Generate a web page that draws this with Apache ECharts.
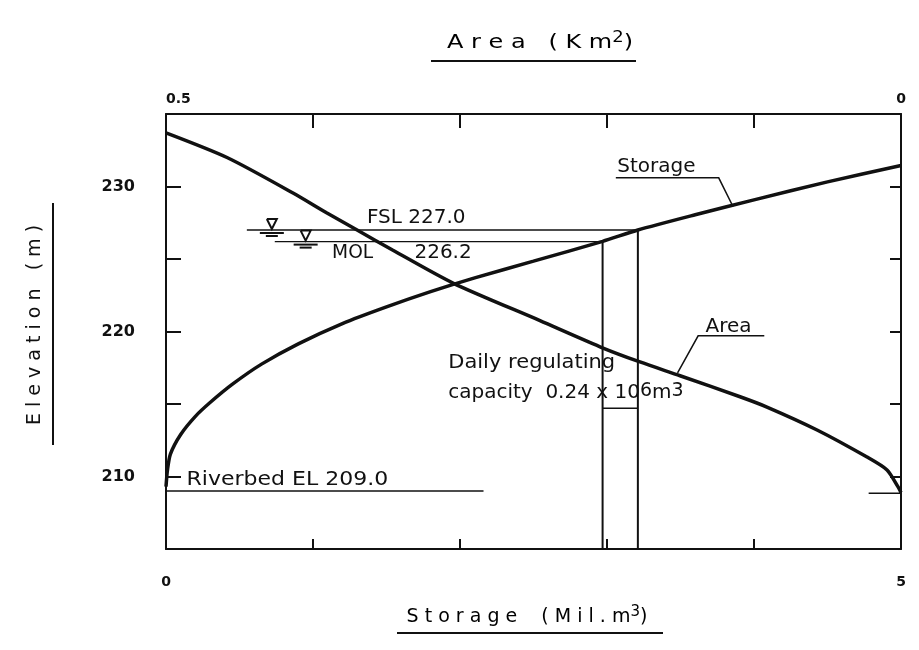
<!DOCTYPE html>
<html><head><meta charset="utf-8">
<script src="https://cdn.jsdelivr.net/npm/echarts/dist/echarts.min.js"></script>
<style>html,body{margin:0;padding:0;background:#fff}#c{width:919px;height:650px}</style>
</head><body><div id="c"></div>
<script>
// ---- data ----
const storageMil  = [0, 0.01, 0.03, 0.1, 0.2, 0.3, 0.45, 0.65, 0.9, 1.2, 1.5, 1.8, 2.1, 2.5, 2.97, 3.21, 3.6, 4.0, 4.5, 5.0];
const storageElev = [209.3, 210.45, 211.55, 212.9, 214.15, 215.1, 216.35, 217.75, 219.15, 220.55, 221.7, 222.75, 223.7, 224.85, 226.22, 227.0, 228.05, 229.08, 230.32, 231.45];
const areaKm2  = [0.5, 0.4585, 0.4136, 0.3905, 0.37, 0.3456, 0.3048, 0.2456, 0.2027, 0.1776, 0.1503, 0.1095, 0.0912, 0.0571, 0.0231, 0.0095, 0.002, 0];
const areaElev = [233.7, 232.0, 229.55, 228.17, 227.0, 225.6, 223.34, 220.75, 218.86, 217.9, 216.95, 215.5, 214.79, 213.21, 211.34, 210.45, 209.28, 208.9];
const FSL = 227.0, MOL = 226.2, RIVERBED = 209.0;
const storageAtFSL = 3.21, storageAtMOL = 2.97;
const fslLineStart = 0.55, molLineStart = 0.74, riverbedLineEnd = 2.16, riverbedStubStart = 4.78;
const dimLineElev = 214.7;
const elevTickLabels = [210, 220, 230];
const storageTickLabels = [0, 5];
const areaTickLabels = [0.5, 0];

const FONT = 'DejaVu Sans';
const INK = '#111';
const chart = echarts.init(document.getElementById('c'), null, {renderer: 'canvas'});

function lineSeries(pts, w, xi) {
  return {type: 'line', xAxisIndex: xi || 0, yAxisIndex: 0, data: pts, symbol: 'none', silent: true,
    lineStyle: {color: INK, width: w}, animation: false, z: 3};
}

const storagePts = storageMil.map((s, i) => [s, storageElev[i]]);
const areaPts = areaKm2.map((a, i) => [a, areaElev[i]]);

const option = {
  animation: false,
  backgroundColor: '#fff',
  grid: {left: 166, right: 18, top: 114, bottom: 101, show: false},
  xAxis: [
    {type: 'value', position: 'bottom', min: 0, max: 5, interval: 1,
     axisLine: {show: true, onZero: false, lineStyle: {color: INK, width: 2}},
     axisTick: {show: true, inside: true, length: 10, lineStyle: {color: INK, width: 2}},
     axisLabel: {margin: 26, fontFamily: FONT, fontSize: 14, fontWeight: 'bold', color: INK,
       formatter: v => storageTickLabels.indexOf(v) >= 0 ? String(v) : ''},
     splitLine: {show: false}},
    {type: 'value', position: 'top', min: 0, max: 0.5, interval: 0.1, inverse: true,
     axisLine: {show: true, onZero: false, lineStyle: {color: INK, width: 2}},
     axisTick: {show: true, inside: true, length: 14, lineStyle: {color: INK, width: 2}},
     axisLabel: {margin: 8, fontFamily: FONT, fontSize: 14, fontWeight: 'bold', color: INK, alignMaxLabel: 'left',
       formatter: v => areaTickLabels.some(t => Math.abs(t - v) < 1e-9) ? String(+v.toFixed(1)) : ''},
     splitLine: {show: false}}
  ],
  yAxis: [
    {type: 'value', position: 'left', min: 205, max: 235, interval: 5,
     axisLine: {show: true, onZero: false, lineStyle: {color: INK, width: 2}},
     axisTick: {show: true, inside: true, length: 15, lineStyle: {color: INK, width: 2}},
     axisLabel: {margin: 31, fontFamily: FONT, fontSize: 16, fontWeight: 'bold', color: INK,
       formatter: v => elevTickLabels.indexOf(v) >= 0 ? String(v) : ''},
     splitLine: {show: false}},
    {type: 'value', position: 'right', min: 205, max: 235, interval: 5,
     axisLine: {show: true, onZero: false, lineStyle: {color: INK, width: 2}},
     axisTick: {show: true, inside: true, length: 11, lineStyle: {color: INK, width: 2}},
     axisLabel: {show: false}, splitLine: {show: false}}
  ],
  series: [
    Object.assign(lineSeries(storagePts, 3.5, 0), {smooth: 0.25, z: 5}),
    Object.assign(lineSeries(areaPts, 3.5, 1), {smooth: 0.25, z: 5}),
    lineSeries([[fslLineStart, FSL], [storageAtFSL, FSL]], 1.3),
    lineSeries([[molLineStart, MOL], [storageAtMOL, MOL]], 1.3),
    lineSeries([[storageAtFSL, 205], [storageAtFSL, FSL]], 2),
    lineSeries([[storageAtMOL, 205], [storageAtMOL, MOL]], 2),
    lineSeries([[storageAtMOL, dimLineElev], [storageAtFSL, dimLineElev]], 1.5),
    lineSeries([[0, RIVERBED], [riverbedLineEnd, RIVERBED]], 1.3),
    lineSeries([[riverbedStubStart, RIVERBED - 0.15], [5, RIVERBED - 0.15]], 1.5),
    {
      type: 'custom', xAxisIndex: 0, yAxisIndex: 0, silent: true, z: 6,
      data: [[0.72, FSL], [0.95, MOL]],
      renderItem: function (params, api) {
        const p = api.coord([api.value(0), api.value(1)]);
        const x = p[0], y = p[1];
        const st = {stroke: INK, lineWidth: 2, fill: null};
        return {type: 'group', children: [
          {type: 'polyline', shape: {points: [[x - 5, y - 11], [x + 5, y - 11], [x, y - 1], [x - 5, y - 11]]}, style: st},
          {type: 'line', shape: {x1: x - 12, y1: y + 3, x2: x + 12, y2: y + 3}, style: {stroke: INK, lineWidth: 2}},
          {type: 'line', shape: {x1: x - 6, y1: y + 6, x2: x + 6, y2: y + 6}, style: {stroke: INK, lineWidth: 2}}
        ]};
      }
    }
  ]
};
chart.setOption(option);

// ---- annotations placed through the chart's own scales ----
function px(s, e) { return chart.convertToPixel({xAxisIndex: 0, yAxisIndex: 0}, [s, e]); }
const g = [];
function txt(s, e, text, size, sx) {
  const p = px(s, e);
  g.push({type: 'text', x: p[0], y: p[1], scaleX: sx || 1, silent: true, z: 20,
    style: {text: text, fontFamily: FONT, fontSize: size, fill: INK, textVerticalAlign: 'middle', textAlign: 'left'}});
}
function seg(pts, w) {
  g.push({type: 'polyline', silent: true, z: 20, shape: {points: pts.map(q => px(q[0], q[1]))}, style: {stroke: INK, lineWidth: w || 1.5, fill: null}});
}
txt(1.367, 227.83, 'FSL 227.0', 20);
txt(1.13, 225.4, 'MOL', 19, 0.98);
txt(1.69, 225.4, '226.2', 20);
txt(3.07, 231.35, 'Storage', 20);
seg([[3.06, 230.6], [3.76, 230.6], [3.857, 228.62]], 1.5);
txt(3.67, 220.3, 'Area', 20);
seg([[4.07, 219.7], [3.62, 219.7], [3.48, 217.15]], 1.5);
txt(1.92, 217.83, 'Daily regulating', 20, 1.05);
{
  const p = px(1.92, 215.76);
  g.push({type: 'text', x: p[0], y: p[1], scaleX: 1.0, silent: true, z: 20,
    style: {text: '{t|capacity  0.24 x 10}{s|6}{t|m}{s|3}', textVerticalAlign: 'middle', fill: INK,
      rich: {t: {fontFamily: FONT, fontSize: 20, color: INK},
             s: {fontFamily: FONT, fontSize: 19, color: INK, verticalAlign: 'top', padding: [0, 0, 4, 0]}}}});
}
txt(0.14, 209.76, 'Riverbed EL 209.0', 20, 1.1);

// titles
g.push({type: 'text', x: 540, y: 43, scaleX: 1.2, originX: 0, originY: 0, silent: true,
  style: {text: '{t|A r e a   ( K m}{s|2}{t|)}', textAlign: 'center', textVerticalAlign: 'middle',
    rich: {t: {fontFamily: FONT, fontSize: 20, color: INK}, s: {fontFamily: FONT, fontSize: 15, color: INK, verticalAlign: 'top', padding: [0, 0, 10, 0]}}}});
g.push({type: 'line', silent: true, shape: {x1: 431, y1: 61, x2: 636, y2: 61}, style: {stroke: INK, lineWidth: 2}});
g.push({type: 'text', x: 527, y: 617, silent: true,
  style: {text: '{t|S t o r a g e    ( M i l . m}{s|3}{t|)}', textAlign: 'center', textVerticalAlign: 'middle',
    rich: {t: {fontFamily: FONT, fontSize: 19, color: INK}, s: {fontFamily: FONT, fontSize: 15, color: INK, verticalAlign: 'top', padding: [0, 0, 10, 0]}}}});
g.push({type: 'line', silent: true, shape: {x1: 397, y1: 633, x2: 663, y2: 633}, style: {stroke: INK, lineWidth: 2}});
g.push({type: 'text', x: 35, y: 325, rotation: Math.PI / 2, silent: true,
  style: {text: 'E l e v a t i o n   ( m )', textAlign: 'center', textVerticalAlign: 'middle', fontFamily: FONT, fontSize: 19, fill: INK}});
g.push({type: 'line', silent: true, shape: {x1: 53, y1: 203, x2: 53, y2: 445}, style: {stroke: INK, lineWidth: 2}});

chart.setOption({graphic: g});
</script>
</body></html>
